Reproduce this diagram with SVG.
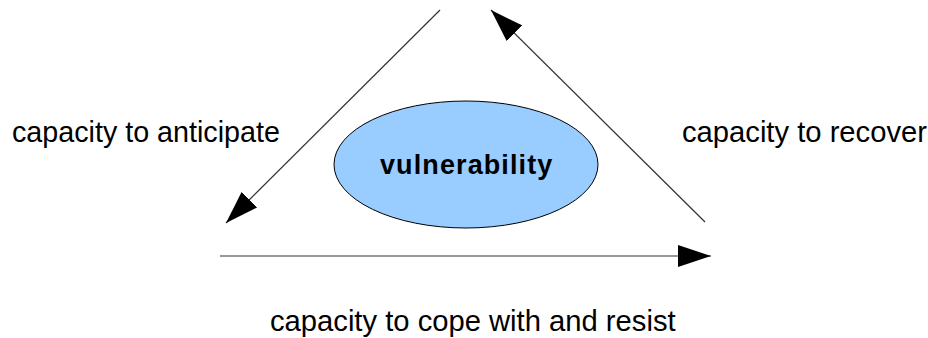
<svg xmlns="http://www.w3.org/2000/svg" width="928" height="338" viewBox="0 0 928 338">
<defs>
<style>
.lbl{font-family:"Liberation Sans",Arial,sans-serif;font-size:29.2px;fill:#000}
.conn{stroke:#333;stroke-width:1.2;fill:none;marker-end:url(#ah)}
</style>
<marker id="ah" viewBox="0 0 33 22" markerWidth="33" markerHeight="22" refX="33" refY="11" orient="auto" markerUnits="userSpaceOnUse">
<path d="M0,0 L33,11 L0,22 z" fill="#000"/>
</marker>
</defs>
<rect width="928" height="338" fill="#fff"/>
<g id="connectors">
<line class="conn" x1="440" y1="10" x2="226" y2="223"/>
<line class="conn" x1="705" y1="222" x2="491" y2="10"/>
<line class="conn" x1="220" y1="256" x2="711" y2="256"/>
</g>
<g id="vulnerability">
<ellipse cx="466" cy="164.5" rx="132" ry="63.5" fill="#99ccff" stroke="#000" stroke-width="1"/>
<text x="380" y="173.5" font-family="'Liberation Sans',Arial,sans-serif" font-size="27" font-weight="bold" letter-spacing="1.1">vulnerability</text>
</g>
<g id="anticipate"><text class="lbl" x="12" y="142" style="font-size:28.7px">capacity to anticipate</text></g>
<g id="recover"><text class="lbl" x="682" y="142">capacity to recover</text></g>
<g id="cope"><text class="lbl" x="270" y="331">capacity to cope with and resist</text></g>
</svg>
